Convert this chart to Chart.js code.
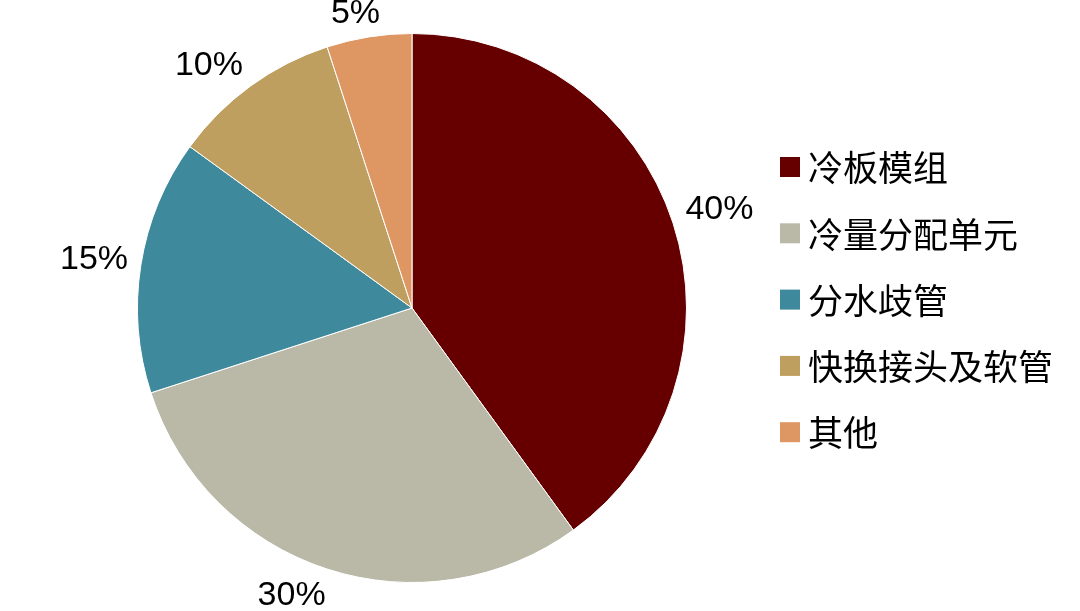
<!DOCTYPE html>
<html>
<head>
<meta charset="utf-8">
<script src="https://cdn.jsdelivr.net/npm/chart.js@4/dist/chart.umd.min.js"></script>
<style>
  html, body { margin: 0; padding: 0; background: #fff; }
  #wrap { width: 1080px; height: 611px; }
</style>
</head>
<body>
<div id="wrap"><canvas id="pie"></canvas></div>
<script>
// data
const categories = ['冷板模组', '冷量分配单元', '分水歧管', '快换接头及软管', '其他'];
const shares = [40, 30, 15, 10, 5];
const sliceColors = ['#660000', '#BAB9A7', '#3F899C', '#BF9F5F', '#DE9662'];

// percent labels just outside each slice
const outsideLabels = {
  id: 'outsideLabels',
  afterDatasetsDraw(chart) {
    const ctx = chart.ctx;
    const meta = chart.getDatasetMeta(0);
    const fontSize = 34;
    const pull = t => Math.max(-1, Math.min(1, t * 3));
    ctx.save();
    ctx.font = fontSize + 'px "Liberation Sans", Arial, sans-serif';
    ctx.fillStyle = '#000';
    ctx.textAlign = 'center';
    ctx.textBaseline = 'middle';
    meta.data.forEach((arc, i) => {
      const p = arc.getProps(['x', 'y', 'startAngle', 'endAngle', 'outerRadius'], true);
      const mid = (p.startAngle + p.endAngle) / 2;
      const dx = Math.cos(mid), dy = Math.sin(mid);
      const text = shares[i] + '%';
      const halfW = ctx.measureText(text).width / 2;
      const halfH = fontSize * 0.36;
      const r = p.outerRadius + 13;
      const x = p.x + dx * r + pull(dx) * halfW;
      const y = p.y + dy * r + pull(dy) * halfH;
      ctx.fillText(text, x, y + 2);
    });
    ctx.restore();
  }
};

// legend on the right, squares + labels
const sideLegend = {
  id: 'sideLegend',
  afterDraw(chart) {
    const ctx = chart.ctx;
    const boxX = 780, box = 20, rowGap = 66.3;
    const firstY = 167;
    ctx.save();
    ctx.font = '35px "Noto Sans CJK SC", sans-serif';
    ctx.textBaseline = 'middle';
    ctx.textAlign = 'left';
    categories.forEach((name, i) => {
      const y = firstY + i * rowGap;
      ctx.fillStyle = sliceColors[i];
      ctx.fillRect(boxX, y - box / 2, box, box);
      ctx.fillStyle = '#000';
      ctx.fillText(name, boxX + box + 8, y + 1);
    });
    ctx.restore();
  }
};

new Chart(document.getElementById('pie'), {
  type: 'pie',
  data: {
    labels: categories,
    datasets: [{
      data: shares,
      backgroundColor: sliceColors,
      borderColor: '#ffffff',
      borderWidth: 1
    }]
  },
  options: {
    responsive: true,
    maintainAspectRatio: false,
    animation: false,
    layout: { padding: { left: 20, right: 276, top: 33, bottom: 28 } },
    plugins: {
      legend: { display: false },
      tooltip: { enabled: false }
    }
  },
  plugins: [outsideLabels, sideLegend]
});
</script>
</body>
</html>
